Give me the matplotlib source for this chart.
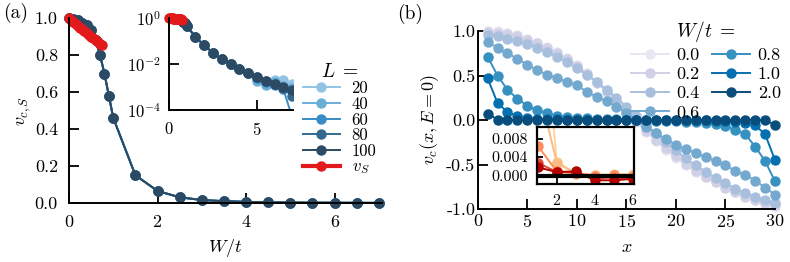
import numpy as np
import matplotlib
matplotlib.use("Agg")
import matplotlib.pyplot as plt

plt.rcParams.update({
    "font.family": "serif",
    "font.serif": ["cmr10", "DejaVu Serif"],
    "mathtext.fontset": "cm",
    "axes.formatter.use_mathtext": True,
    "font.size": 13,
    "axes.linewidth": 1.4,
    "xtick.direction": "in",
    "ytick.direction": "in",
    "xtick.major.size": 7,
    "ytick.major.size": 7,
    "xtick.major.width": 1.3,
    "ytick.major.width": 1.3,
    "xtick.minor.visible": False,
    "ytick.minor.visible": False,
})

# ---- panel (a): critical velocity vs disorder ----
W = [0, 0.1, 0.2, 0.3, 0.4, 0.5, 0.6, 0.7, 0.8, 0.9, 1.0, 1.5, 2.0, 2.5, 3.0,
     3.5, 4.0, 4.5, 5.0, 5.5, 6.0, 6.5, 7.0]
vc_head = [1.0, 0.996, 0.987, 0.975, 0.96, 0.935, 0.88, 0.80, 0.70, 0.58, 0.46,
           0.15, 0.065, 0.031, 0.016, 0.010, 0.0062, 0.0039]
# values for W = 5.0 ... 7.0, one list per system size
vc_tail = {
    20: [0.0022, 0.0016, 0.0021, 0.0020, 0.0014],
    40: [0.0019, 0.0012, 0.0016, 0.0011, 0.0009],
    60: [0.0025, 0.0017, 0.0012, 0.0008, 0.00005],
    80: [0.0026, 0.0018, 0.0013, 0.0009, 0.0004],
    100: [0.0026, 0.0018, 0.00135, 0.00097, 0.00072],
}
L_colors = {20: "#93c3e4", 40: "#6aaed8", 60: "#3a8cc6", 80: "#33698f", 100: "#2c4a63"}

W_S = [0, 0.05, 0.1, 0.15, 0.2, 0.25, 0.3, 0.35, 0.4, 0.45, 0.5, 0.55, 0.6,
       0.65, 0.7, 0.75]
v_S = [1.0, 0.989, 0.978, 0.968, 0.958, 0.948, 0.938, 0.929, 0.919, 0.909,
       0.899, 0.89, 0.88, 0.871, 0.862, 0.853]

# ---- panel (b): velocity profile along the chain ----
x_sites = list(range(1, 31))
Wt_values = ["0.0", "0.2", "0.4", "0.6", "0.8", "1.0", "2.0"]
vx = {
    "0.0": [1.0, 0.995, 0.98, 0.95, 0.91, 0.87, 0.82, 0.76, 0.70, 0.62, 0.53, 0.43,
            0.33, 0.22, 0.10, -0.02, -0.13, -0.24, -0.34, -0.43, -0.51, -0.58,
            -0.64, -0.70, -0.755, -0.81, -0.855, -0.9, -0.94, -0.98],
    "0.2": [0.99, 0.98, 0.965, 0.94, 0.90, 0.86, 0.81, 0.75, 0.69, 0.61, 0.52, 0.42,
            0.32, 0.21, 0.10, -0.01, -0.12, -0.22, -0.32, -0.41, -0.49, -0.57,
            -0.64, -0.70, -0.76, -0.81, -0.86, -0.9, -0.93, -0.96],
    "0.4": [0.96, 0.94, 0.915, 0.885, 0.85, 0.81, 0.76, 0.71, 0.65, 0.58, 0.51, 0.43,
            0.34, 0.25, 0.15, 0.05, -0.05, -0.15, -0.25, -0.34, -0.43, -0.51,
            -0.58, -0.65, -0.71, -0.77, -0.82, -0.86, -0.9, -0.93],
    "0.6": [0.88, 0.81, 0.75, 0.69, 0.62, 0.56, 0.51, 0.47, 0.43, 0.39, 0.32, 0.26,
            0.21, 0.15, 0.08, 0.0, -0.08, -0.15, -0.21, -0.28, -0.33, -0.37,
            -0.42, -0.46, -0.51, -0.57, -0.62, -0.68, -0.76, -0.84],
    "0.8": [0.71, 0.50, 0.34, 0.24, 0.16, 0.11, 0.075, 0.05, 0.035, 0.025, 0.018,
            0.013, 0.009, 0.006, 0.003, 0.0, -0.003, -0.006, -0.009, -0.013,
            -0.018, -0.025, -0.035, -0.05, -0.07, -0.11, -0.16, -0.30, -0.46, -0.69],
    "1.0": [0.47, 0.19, 0.09, 0.045, 0.025, 0.015, 0.01, 0.007, 0.005, 0.004, 0.003,
            0.002, 0.002, 0.001, 0.001, 0.0, -0.001, -0.001, -0.002, -0.002,
            -0.003, -0.004, -0.005, -0.008, -0.012, -0.02, -0.03, -0.06, -0.16, -0.45],
    "2.0": [0.07, 0.005, 0.0, 0.0, 0.0, 0.0, 0.0, 0.0, 0.0, 0.0, 0.0, 0.0, 0.0, 0.0,
            0.0, 0.0, 0.0, 0.0, 0.0, 0.0, 0.0, 0.0, 0.0, 0.0, 0.0, 0.0, 0.0, 0.0,
            -0.003, -0.055],
}
Wt_colors = ["#e9e5f1", "#d0d1e6", "#a8bfdd", "#74a9cf", "#3690c0", "#0570b0", "#084d7c"]

# inset of (b): small-x detail
x_zoom = [1, 2, 3, 4, 5, 6]
v_zoom = [
    [0.05, 0.003, 0.0005, 0.0002, 0.0003, 0.0003],
    [0.02, 0.0028, 0.0004, 0.0001, 0.0002, 0.0002],
    [0.0065, 0.0009, 0.0007, -0.0001, 0.0002, -0.0001],
    [0.0028, 0.0008, 0.0006, -0.0006, -0.0004, -0.0008],
    [0.0018, 0.0008, 0.0009, -0.001, -0.001, -0.0007],
]
zoom_colors = ["#fdd49e", "#fdbb84", "#fc8d59", "#e34a33", "#b30000"]

fig = plt.figure(figsize=(7.9, 2.62), dpi=100)

def px(l, b, r, t):
    # axes rectangle from pixel edges (origin top-left)
    return [l / 790, (262 - b) / 262, (r - l) / 790, (b - t) / 262]

mk = dict(marker="o", markersize=6.5, lw=1.4, clip_on=False)

# ---------------- (a) ----------------
ax = fig.add_axes(px(69, 203, 382, 18))
for L, col in L_colors.items():
    ax.plot(W, vc_head + vc_tail[L], color=col, label=f"{L}", **mk)
ax.plot(W_S, v_S, color="#e31a1c", lw=3, marker="o", markersize=6.5,
        label="$v_S$", clip_on=False)
ax.set_xlim(0, 7.07)
ax.set_ylim(0, 1.0)
ax.set_xticks([0, 2, 4, 6])
ax.set_yticks([0, 0.2, 0.4, 0.6, 0.8, 1.0])
ax.yaxis.set_major_formatter(matplotlib.ticker.FormatStrFormatter("%.1f"))
ax.tick_params(axis="x", pad=8)
ax.tick_params(axis="y", pad=8)
ax.spines["top"].set_visible(False)
ax.spines["right"].set_visible(False)
ax.set_xlabel("$W/t$", labelpad=5)
ax.set_ylabel("$v_{c,S}$", labelpad=1)
ax.legend(title="$L\\;=$", frameon=False, fontsize=12, title_fontsize=14,
          loc="upper left", bbox_to_anchor=(0.726, 0.795), handlelength=2.2,
          labelspacing=0.02, handletextpad=0.72, borderaxespad=0)

axi = fig.add_axes(px(169, 110, 293, 18))
for L, col in L_colors.items():
    axi.plot(W, vc_head + vc_tail[L], color=col, marker="o", markersize=6.5, lw=1.4)
axi.plot(W_S, v_S, color="#e31a1c", lw=3, marker="o", markersize=6.5, clip_on=False)
axi.set_yscale("log")
axi.set_ylim(1e-4, 1.0)
axi.set_xlim(0, 7.05)
axi.set_yticks([1e-4, 1e-2, 1.0])
axi.yaxis.set_minor_locator(matplotlib.ticker.NullLocator())
axi.set_xticks([0, 5])
axi.tick_params(labelsize=12)
axi.tick_params(axis="x", pad=8)
axi.tick_params(axis="y", pad=6)
axi.patch.set_alpha(0)
axi.spines["top"].set_visible(False)
axi.spines["right"].set_visible(False)

# ---------------- (b) ----------------
bx = fig.add_axes(px(477.7, 209, 775, 31))
for w, col in zip(Wt_values, Wt_colors):
    bx.plot(x_sites, vx[w], color=col, label=w, **mk)
bx.set_xlim(0, 30)
bx.set_ylim(-1, 1)
bx.set_xticks([0, 5, 10, 15, 20, 25, 30])
bx.set_yticks([-1, -0.5, 0, 0.5, 1.0])
bx.yaxis.set_major_formatter(matplotlib.ticker.FormatStrFormatter("%.1f"))
bx.tick_params(axis="x", pad=3)
bx.tick_params(axis="y", pad=1.7)
bx.spines["top"].set_visible(False)
bx.spines["right"].set_visible(False)
bx.set_xlabel("$x$", labelpad=7)
bx.set_ylabel("$v_c(x,E=0)$", labelpad=4)
bx.legend(title="$W/t\\;=$", ncol=2, frameon=False, fontsize=13, title_fontsize=14,
          loc="upper left", bbox_to_anchor=(0.49, 1.11), handlelength=2.1,
          labelspacing=0.2, handletextpad=0.45, columnspacing=0.65, borderaxespad=0)

bi = fig.add_axes(px(537.3, 184, 634, 127))
for vals, col in zip(v_zoom, zoom_colors):
    bi.plot(x_zoom, vals, color=col, marker="o", markersize=6.5, lw=1.4)
bi.axhline(0, color="black", lw=3, zorder=5)
bi.set_xlim(0.98, 6.06)
bi.set_ylim(-0.0018, 0.0105)
bi.set_xticks([2, 4, 6])
bi.set_yticks([0, 0.004, 0.008])
bi.yaxis.set_major_formatter(matplotlib.ticker.FormatStrFormatter("%.3f"))
bi.tick_params(labelsize=11.5, length=4)
bi.tick_params(axis="x", pad=6.5)
bi.tick_params(axis="y", pad=7)
for s in bi.spines.values():
    s.set_linewidth(1.6)

fig.text(3 / 790, 1 - 13 / 262, "(a)", fontsize=14, va="center")
fig.text(397 / 790, 1 - 14 / 262, "(b)", fontsize=14, va="center")

fig.savefig("out.png", dpi=100)
